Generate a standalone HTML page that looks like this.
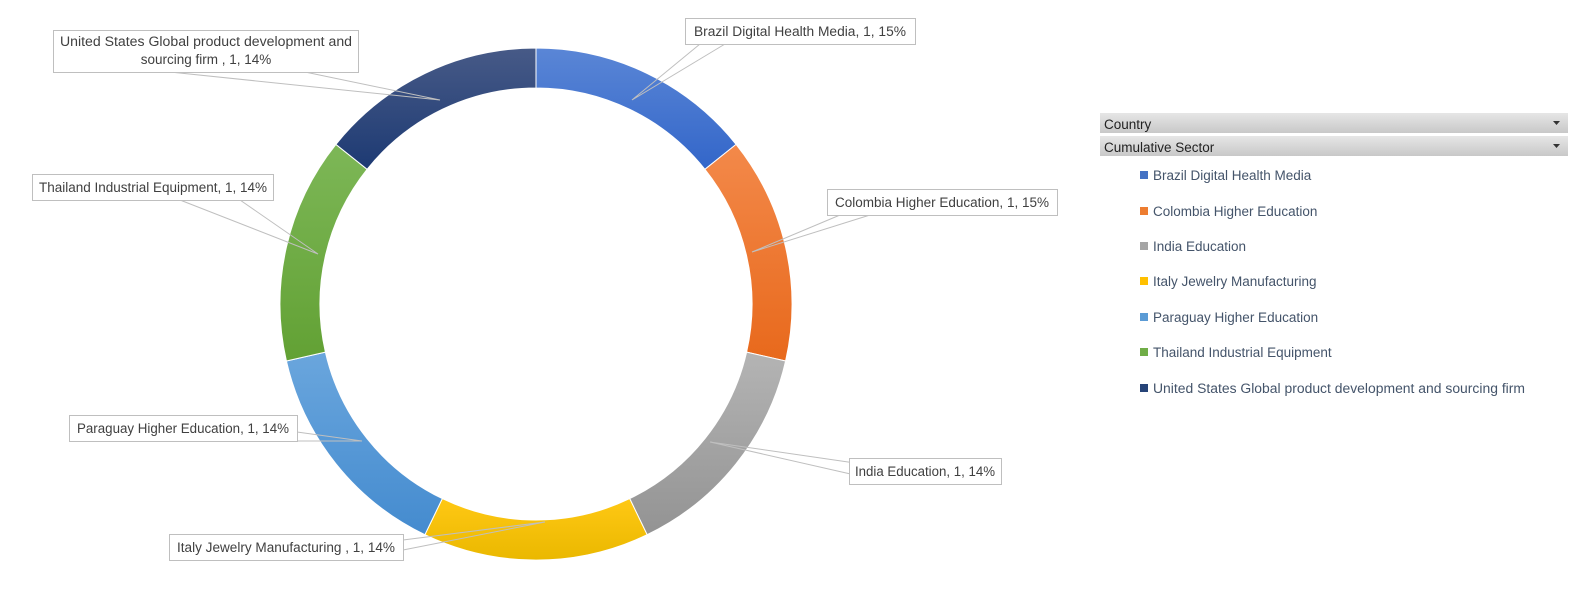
<!DOCTYPE html>
<html><head><meta charset="utf-8"><style>
body{margin:0;background:#fff;width:1575px;height:594px;overflow:hidden;font-family:"Liberation Sans",sans-serif}
</style></head><body>
<svg width="1575" height="594" xmlns="http://www.w3.org/2000/svg" font-family="Liberation Sans, sans-serif">
<defs>
<linearGradient id="g0" x1="0" y1="0" x2="0" y2="1"><stop offset="0" stop-color="#5a86d6"/><stop offset="1" stop-color="#3366c9"/></linearGradient>
<linearGradient id="g1" x1="0" y1="0" x2="0" y2="1"><stop offset="0" stop-color="#f3894a"/><stop offset="1" stop-color="#e8691c"/></linearGradient>
<linearGradient id="g2" x1="0" y1="0" x2="0" y2="1"><stop offset="0" stop-color="#b4b4b4"/><stop offset="1" stop-color="#939393"/></linearGradient>
<linearGradient id="g3" x1="0" y1="0" x2="0" y2="1"><stop offset="0" stop-color="#ffc814"/><stop offset="1" stop-color="#eab800"/></linearGradient>
<linearGradient id="g4" x1="0" y1="0" x2="0" y2="1"><stop offset="0" stop-color="#6aa6dd"/><stop offset="1" stop-color="#448bcf"/></linearGradient>
<linearGradient id="g5" x1="0" y1="0" x2="0" y2="1"><stop offset="0" stop-color="#7db757"/><stop offset="1" stop-color="#62a134"/></linearGradient>
<linearGradient id="g6" x1="0" y1="0" x2="0" y2="1"><stop offset="0" stop-color="#475a87"/><stop offset="1" stop-color="#1d3a73"/></linearGradient>
<linearGradient id="hd" x1="0" y1="0" x2="0" y2="1"><stop offset="0" stop-color="#e6e6e6"/><stop offset="1" stop-color="#c8c8c8"/></linearGradient>
</defs>
<g stroke="#fff" stroke-width="1">
<path d="M536,48 A256,256 0 0 1 736.1,144.4 L704.9,169.3 A216,216 0 0 0 536,88 Z" fill="url(#g0)"/>
<path d="M736.1,144.4 A256,256 0 0 1 785.6,361 L746.6,352.1 A216,216 0 0 0 704.9,169.3 Z" fill="url(#g1)"/>
<path d="M785.6,361 A256,256 0 0 1 647.1,534.7 L629.7,498.6 A216,216 0 0 0 746.6,352.1 Z" fill="url(#g2)"/>
<path d="M647.1,534.7 A256,256 0 0 1 424.9,534.7 L442.3,498.6 A216,216 0 0 0 629.7,498.6 Z" fill="url(#g3)"/>
<path d="M424.9,534.7 A256,256 0 0 1 286.4,361 L325.4,352.1 A216,216 0 0 0 442.3,498.6 Z" fill="url(#g4)"/>
<path d="M286.4,361 A256,256 0 0 1 335.9,144.4 L367.1,169.3 A216,216 0 0 0 325.4,352.1 Z" fill="url(#g5)"/>
<path d="M335.9,144.4 A256,256 0 0 1 536,48 L536,88 A216,216 0 0 0 367.1,169.3 Z" fill="url(#g6)"/>
</g>
<g stroke="#bfbfbf" stroke-width="1" fill="none">
<polyline points="700,44 632,100 725,44"/>
<polyline points="840,215 752,252 870,215"/>
<polyline points="855,463 710,442 855,475"/>
<polyline points="403,540 545,522 403,550"/>
<polyline points="297,432 362,441 297,441"/>
<polyline points="180,200 318,254 240,200"/>
<polyline points="170,72 440,100 305,72"/>
</g>
<g fill="#fff" stroke="#bfbfbf" stroke-width="1">
<rect x="685.5" y="18.5" width="230" height="26"/>
<rect x="827.5" y="189.5" width="230" height="26"/>
<rect x="849.5" y="458.5" width="152" height="26"/>
<rect x="169.5" y="534.5" width="234" height="26"/>
<rect x="69.5" y="415.5" width="228" height="26"/>
<rect x="32.5" y="174.5" width="241" height="26"/>
<rect x="53.5" y="30.5" width="305" height="42"/>
</g>
<g font-size="13.5" fill="#404040" text-anchor="middle">
<text x="800" y="36" textLength="212" lengthAdjust="spacingAndGlyphs">Brazil Digital Health Media, 1, 15%</text>
<text x="942" y="207" textLength="214" lengthAdjust="spacingAndGlyphs">Colombia Higher Education, 1, 15%</text>
<text x="925" y="476" textLength="140" lengthAdjust="spacingAndGlyphs">India Education, 1, 14%</text>
<text x="286" y="552" textLength="218" lengthAdjust="spacingAndGlyphs">Italy Jewelry Manufacturing , 1, 14%</text>
<text x="183" y="433" textLength="212" lengthAdjust="spacingAndGlyphs">Paraguay Higher Education, 1, 14%</text>
<text x="153" y="192" textLength="228" lengthAdjust="spacingAndGlyphs">Thailand Industrial Equipment, 1, 14%</text>
<text x="206" y="46" textLength="292" lengthAdjust="spacingAndGlyphs">United States  Global product development and</text>
<text x="206" y="64">sourcing firm , 1, 14%</text>
</g>
<rect x="1100" y="113" width="468" height="20" fill="url(#hd)"/>
<rect x="1100" y="136" width="468" height="20" fill="url(#hd)"/>
<g font-size="13.5" fill="#222">
<text x="1104" y="129">Country</text>
<text x="1104" y="152">Cumulative Sector</text>
</g>
<path d="M1553,121 l7,0 l-3.5,4 z M1553,144 l7,0 l-3.5,4 z" fill="#333"/>
<g font-size="13.5" fill="#44546a">
<rect x="1140" y="171" width="8" height="8" fill="#4472c4"/><text x="1153" y="180">Brazil Digital Health Media</text>
<rect x="1140" y="207" width="8" height="8" fill="#ed7d31"/><text x="1153" y="216">Colombia Higher Education</text>
<rect x="1140" y="242" width="8" height="8" fill="#a5a5a5"/><text x="1153" y="251">India Education</text>
<rect x="1140" y="277" width="8" height="8" fill="#ffc000"/><text x="1153" y="286">Italy Jewelry Manufacturing</text>
<rect x="1140" y="313" width="8" height="8" fill="#5b9bd5"/><text x="1153" y="322">Paraguay Higher Education</text>
<rect x="1140" y="348" width="8" height="8" fill="#70ad47"/><text x="1153" y="357">Thailand Industrial Equipment</text>
<rect x="1140" y="384" width="8" height="8" fill="#264478"/><text x="1153" y="393" textLength="372" lengthAdjust="spacingAndGlyphs">United States  Global product development and sourcing firm</text>
</g>
</svg>
</body></html>
